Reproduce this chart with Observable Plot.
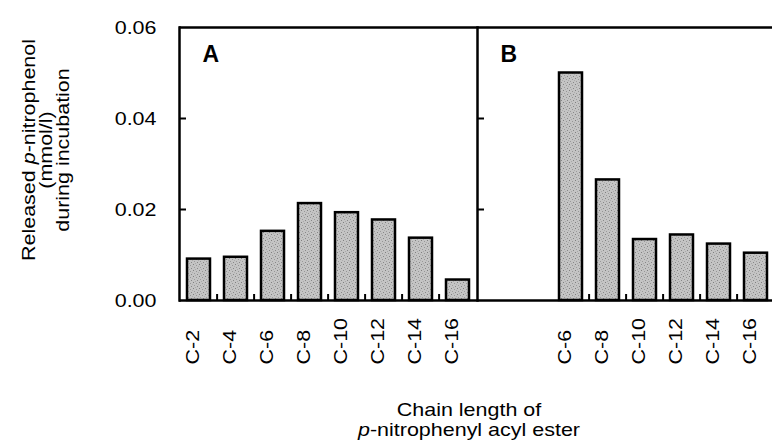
<!DOCTYPE html>
<html>
<head>
<meta charset="utf-8">
<script src="https://cdn.jsdelivr.net/npm/d3@7"></script>
<script src="https://cdn.jsdelivr.net/npm/@observablehq/plot@0.6"></script>
<style>
  html, body { margin: 0; padding: 0; background: #fff; overflow: hidden; }
  svg { font-family: "Liberation Sans", Arial, Helvetica, sans-serif; }
</style>
</head>
<body>
<div id="chart"></div>
<script>
// ---- data ----
const categories = ["C-2", "C-4", "C-6", "C-8", "C-10", "C-12", "C-14", "C-16"];
const panels = ["A", "B"];
const panelACategories = ["C-2", "C-4", "C-6", "C-8", "C-10", "C-12", "C-14", "C-16"];
const panelAValues = [0.0091, 0.0095, 0.0152, 0.0213, 0.0193, 0.0177, 0.0137, 0.0045];
const panelBCategories = ["C-6", "C-8", "C-10", "C-12", "C-14", "C-16"];
const panelBValues = [0.0500, 0.0265, 0.0134, 0.0144, 0.0124, 0.0104];
const yTicks = [0, 0.02, 0.04, 0.06];
const yInnerTicks = [0.02, 0.04];
const yTitleLines = [["Released ", "p", "-nitrophenol"], ["(mmol/l)"], ["during incubation"]];
const xTitleLines = [["Chain length of"], ["", "p", "-nitrophenyl acyl ester"]];

const data = [
  ...panelACategories.map((c, i) => ({panel: "A", chain: c, value: panelAValues[i], first: i === 0})),
  ...panelBCategories.map((c, i) => ({panel: "B", chain: c, value: panelBValues[i], first: i === 0}))
];
const panelLabels = panels.map(p => ({panel: p}));
const separators = data.filter(d => !d.first);

const FONT = 19;
const STRETCH = 1.13;

const plot = Plot.plot({
  width: 772,
  height: 447,
  marginLeft: 178,
  marginRight: -3,
  marginTop: 27,
  marginBottom: 147,
  style: {fontFamily: '"Liberation Sans", Arial, sans-serif', color: "#000", background: "#fff"},
  fx: {domain: panels, padding: 0, axis: null},
  x: {domain: categories, paddingInner: 0.39, paddingOuter: 0.145, axis: null},
  y: {domain: [0, 0.06], axis: null},
  marks: [
    Plot.barY(data, {fx: "panel", x: "chain", y: "value", fill: "url(#stipple)", stroke: "#000", strokeWidth: 2.5}),
    Plot.ruleX(separators, {fx: "panel", x: "chain", dx: -18.9, insetTop: 267, stroke: "#000", strokeWidth: 2}),
    Plot.ruleY([0, 0.06], {stroke: "#000", strokeWidth: 2.5}),
    Plot.frame({anchor: "left", stroke: "#000", strokeWidth: 2.5}),
    Plot.axisY(yInnerTicks, {tickSize: -7, tickFormat: () => "", label: null, facetAnchor: null, strokeWidth: 2}),
    Plot.axisY(yTicks, {tickSize: 0, tickPadding: 23, tickFormat: d3.format(".2f"), label: null, fontSize: FONT}),
    Plot.text(data, {fx: "panel", x: "chain", frameAnchor: "bottom", text: "chain", rotate: -90, textAnchor: "start", dy: 64, fontSize: FONT}),
    Plot.text(panelLabels, {fx: "panel", text: "panel", frameAnchor: "top-left", dx: 23, dy: 18, fontWeight: "bold", fontSize: 23})
  ]
});

const svg = d3.select(plot);
// stipple fill pattern
const defs = svg.insert("defs", ":first-child");
const pat = defs.append("pattern").attr("id", "stipple").attr("patternUnits", "userSpaceOnUse").attr("width", 6).attr("height", 6);
pat.append("rect").attr("width", 6).attr("height", 6).attr("fill", "#c4c4c4");
[[0,0,"#808080"],[3,1,"#969696"],[1,3,"#9a9a9a"],[4,4,"#878787"],[2,5,"#a8a8a8"],[5,2,"#acacac"]].forEach(([x, y, c]) => {
  pat.append("rect").attr("x", x).attr("y", y).attr("width", 1).attr("height", 1).attr("fill", c);
});

function addLine(parts, attrs) {
  const t = svg.append("text").attr("text-anchor", "middle").attr("font-size", FONT).attr("fill", "#000").attr("class", "stretch");
  Object.entries(attrs).forEach(([k, v]) => t.attr(k, v));
  parts.forEach((s, i) => { if (s) t.append("tspan").attr("font-style", i === 1 ? "italic" : null).text(s); });
  return t;
}

// y-axis title (three lines, rotated)
const yBase = [35, 52, 69];
yTitleLines.forEach((parts, i) => addLine(parts, {transform: `translate(${yBase[i]},150) rotate(-90)`}));

// x-axis title (two lines)
const xBase = [416, 436];
xTitleLines.forEach((parts, i) => addLine(parts, {x: 469, y: xBase[i]}));

document.getElementById("chart").appendChild(plot);

// widen the regular (non-bold) text glyphs to match the reference typeface
svg.selectAll("text").each(function() {
  const w = getComputedStyle(this).fontWeight;
  if (+w >= 700 || w === "bold") return;
  const L = this.getComputedTextLength();
  if (L > 0) {
    this.setAttribute("textLength", (L * STRETCH).toFixed(1));
    this.setAttribute("lengthAdjust", "spacingAndGlyphs");
  }
});
</script>
</body>
</html>
